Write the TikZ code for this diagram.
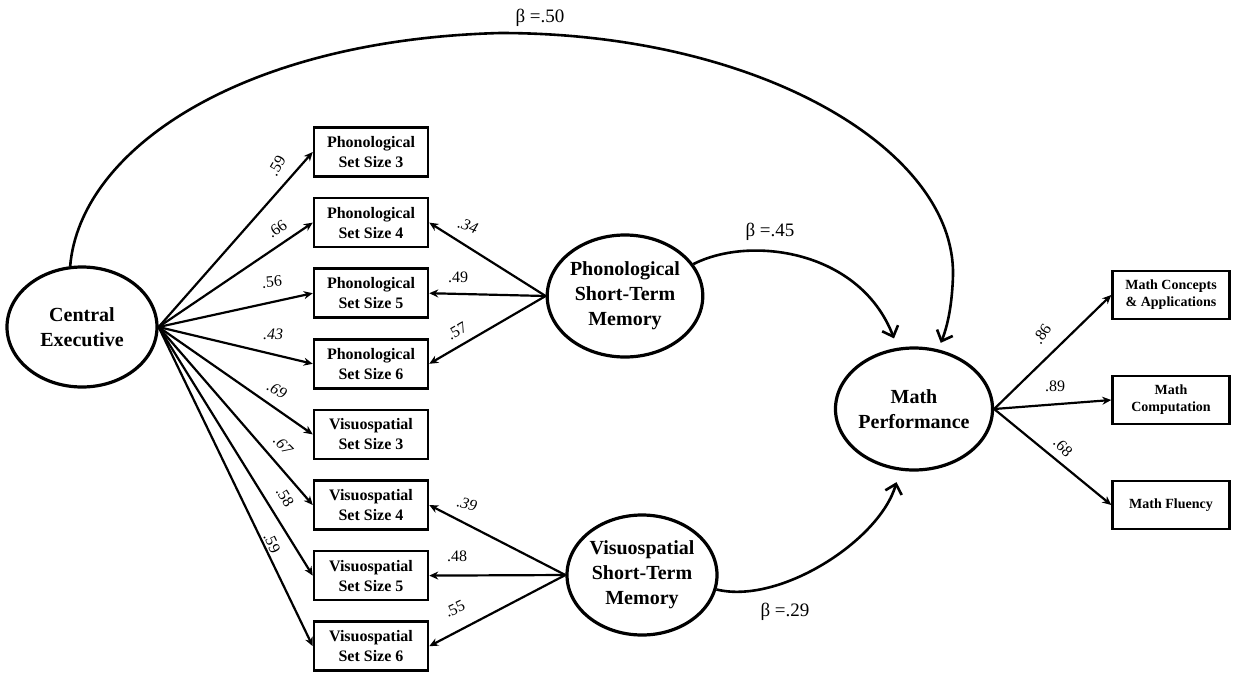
\documentclass[tikz,border=0pt]{standalone}
\usepackage{fontspec}
\setmainfont{Liberation Serif}
\usetikzlibrary{arrows.meta, positioning, shapes.geometric}

\tikzset{
  latent/.style={ellipse, draw, line width=3.2pt, minimum width=150pt, minimum height=120pt,
    inner sep=0pt, align=center, font=\bfseries\fontsize{20}{25}\selectfont},
  indicator/.style={rectangle, draw, line width=2.5pt, minimum width=114pt, minimum height=49pt,
    inner sep=0pt, align=center, font=\bfseries\fontsize{16}{20}\selectfont},
  outcome/.style={indicator, minimum width=117pt, minimum height=48pt,
    font=\bfseries\fontsize{14}{17}\selectfont},
  loading/.style={-{Stealth[length=9pt,width=8pt]}, line width=2.2pt},
  regress/.style={-{Straight Barb[length=9pt,width=17pt]}, line width=2.6pt},
  coef/.style={inner sep=0pt, font=\fontsize{16}{16}\selectfont},
  coefit/.style={coef, font=\itshape\fontsize{16}{16}\selectfont},
  betalbl/.style={inner sep=0pt, font=\fontsize{19}{19}\selectfont},
}

\begin{document}
\begin{tikzpicture}[x=1pt, y=-1pt, node distance=70.6pt, on grid]
\useasboundingbox (0,0) rectangle (1233,673);

% Latent factors
\node[latent] (ce) at (82,327) {Central\\Executive};
\node[latent, minimum width=144pt, minimum height=122pt] (ps) at (625,296) {Phonological\\Short-Term\\Memory};
\node[latent] (vs) at (642,575) {Visuospatial\\Short-Term\\Memory};
\node[latent, minimum width=146pt, minimum height=122pt] (mp) at (914,409) {Math\\Performance};

% Working memory indicators
\node[indicator] (p3) at (371,152) {Phonological\\Set Size 3};
\node[indicator, below=of p3] (p4) {Phonological\\Set Size 4};
\node[indicator, below=of p4] (p5) {Phonological\\Set Size 5};
\node[indicator, below=of p5] (p6) {Phonological\\Set Size 6};
\node[indicator, below=of p6] (v3) {Visuospatial\\Set Size 3};
\node[indicator, below=of v3] (v4) {Visuospatial\\Set Size 4};
\node[indicator, below=of v4] (v5) {Visuospatial\\Set Size 5};
\node[indicator, below=of v5] (v6) {Visuospatial\\Set Size 6};

% Math indicators
\node[outcome] (mca) at (1171,295) {Math Concepts\\\& Applications};
\node[outcome, below=105pt of mca] (mc) {Math\\Computation};
\node[outcome, below=105pt of mc] (mf) {Math Fluency};

% Loadings
\foreach \b in {p3,p4,p5,p6,v3,v4,v5,v6}
  \draw[loading] (ce.east) -- (\b.west);
\foreach \b in {p4,p5,p6}
  \draw[loading] (ps.west) -- (\b.east);
\foreach \b in {v4,v5,v6}
  \draw[loading] (vs.west) -- (\b.east);
\foreach \b in {mca,mc,mf}
  \draw[loading] (mp.east) -- (\b.west);

% Structural paths
\draw[regress, shorten >=7pt] (ce.101) .. controls (80,150) and (240,40) .. (500,33)
  .. controls (760,33) and (955,150) .. (953,275) .. controls (952,310) and (946,330) .. (mp.68);
\draw[regress, shorten >=10pt] (ps.25) .. controls (750,235) and (860,250) .. (mp.105);
\draw[regress, shorten >=12pt] (vs.-11) .. controls (780,605) and (880,540) .. (mp.257);

% Coefficients
\node[coef, rotate=60] (c1) at (277,166) {.59};
\node[coef, rotate=35] (c2) at (277,229) {.66};
\node[coef, rotate=5] (c3) at (272,282) {.56};
\node[coefit] (c4) at (273,334) {.43};
\node[coefit, rotate=-30] (c5) at (277,390) {.69};
\node[coefit, rotate=-45] (c6) at (283,445) {.67};
\node[coef, rotate=-58] (c7) at (285,497) {.58};
\node[coef, rotate=-65] (c8) at (272,543) {.59};
\node[coefit, rotate=-20] (c9) at (468,226) {.34};
\node[coef] (c10) at (458,277) {.49};
\node[coef, rotate=30] (c11) at (457,331) {.57};
\node[coefit, rotate=-15] (c12) at (467,504) {.39};
\node[coef] (c13) at (457,556) {.48};
\node[coef, rotate=25] (c14) at (455,609) {.55};
\node[coef, rotate=55] (c15) at (1042,334) {.86};
\node[coef] (c16) at (1055,386) {.89};
\node[coef, rotate=-45] (c17) at (1063,447) {.68};

\node[betalbl] (b1) at (540,18) {β =.50};
\node[betalbl] (b2) at (770,232) {β =.45};
\node[betalbl] (b3) at (785,612) {β =.29};
\end{tikzpicture}
\end{document}
